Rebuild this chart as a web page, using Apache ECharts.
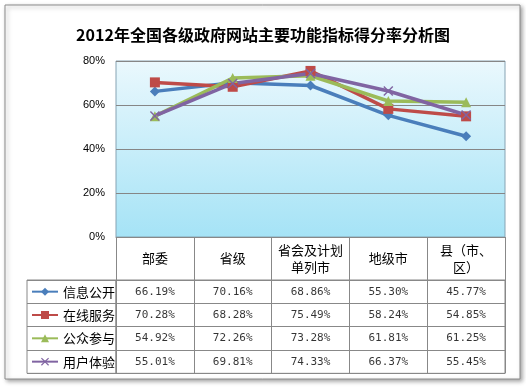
<!DOCTYPE html>
<html><head><meta charset="utf-8">
<script src="https://cdn.jsdelivr.net/npm/echarts@6/dist/echarts.min.js"></script>
<style>html,body{margin:0;padding:0;background:#fff}#c{width:526px;height:387px}</style>
</head><body><div id="c"></div>
<script>
var titleText = '2012年全国各级政府网站主要功能指标得分率分析图';
var categories = ['部委', '省级', '省会及计划\n单列市', '地级市', '县（市、\n区）'];
var seriesNames = ['信息公开', '在线服务', '公众参与', '用户体验'];
var infoOpen = [66.19, 70.16, 68.86, 55.30, 45.77];
var onlineService = [70.28, 68.28, 75.49, 58.24, 54.85];
var publicPart = [54.92, 72.26, 73.28, 61.81, 61.25];
var userExp = [55.01, 69.81, 74.33, 66.37, 55.45];
var yMin = 0, yMax = 80, yStep = 20;

var allValues = [infoOpen, onlineService, publicPart, userExp];
var colors = ['#4a7ebb', '#be4b48', '#9bbb59', '#8064a2'];
var symbols = ['diamond', 'rect', 'triangle', 'path://M0,1 L1,0 L5,4 L9,0 L10,1 L6,5 L10,9 L9,10 L5,6 L1,10 L0,9 L4,5 Z'];
var symbolSizes = [10, 10, 10, 10];

var chart = echarts.init(document.getElementById('c'), null, {renderer: 'canvas'});

var lineSeries = seriesNames.map(function (n, i) {
  return {
    name: n, type: 'line', xAxisIndex: 0, yAxisIndex: 0,
    data: allValues[i], symbol: symbols[i], symbolSize: symbolSizes[i],
    showAllSymbol: true,
    lineStyle: {width: 3.5, color: colors[i]},
    itemStyle: {color: colors[i]},
    z: 3
  };
});

var cellData = [];
allValues.forEach(function (arr, r) {
  arr.forEach(function (v, c) { cellData.push([c, r, v]); });
});

var option = {
  backgroundColor: '#fff',
  animation: false,
  graphic: [{
    type: 'rect', shape: {x: 5, y: 5, width: 515, height: 374}, z: -10,
    style: {fill: '#fff', stroke: '#8c8c8c', lineWidth: 1,
      shadowBlur: 4, shadowOffsetX: 2, shadowOffsetY: 2, shadowColor: 'rgba(0,0,0,0.35)'}
  }],
  title: {
    text: titleText, left: 'center', top: 22,
    textStyle: {fontSize: 16, fontWeight: 'bold', color: '#000', fontFamily: 'Noto Sans CJK SC'}
  },
  legend: {
    orient: 'vertical', left: 31, top: 280, padding: 0, itemGap: 0,
    itemWidth: 26, itemHeight: 10,
    data: seriesNames,
    lineStyle: {width: 2},
    textStyle: {fontSize: 13, lineHeight: 23.33, color: '#000', fontFamily: 'Noto Sans CJK SC'}
  },
  grid: [
    {left: 116, top: 61, width: 389, height: 176, show: true,
      backgroundColor: {type: 'linear', x: 0, y: 0, x2: 0, y2: 1,
        colorStops: [{offset: 0, color: '#eaf8fd'}, {offset: 1, color: '#a5e3f6'}]},
      borderColor: '#86a3b3', borderWidth: 1},
    {left: 116, top: 280, width: 389, height: 93.33, show: true, borderColor: '#888', borderWidth: 1},
    {left: 27, top: 280, width: 89, height: 93.33, show: true, borderColor: '#888', borderWidth: 1}
  ],
  xAxis: [
    {type: 'category', gridIndex: 0, data: categories, boundaryGap: true,
      axisLine: {show: true, lineStyle: {color: '#888'}},
      axisTick: {show: true, length: 43, interval: 0, lineStyle: {color: '#888'}},
      axisLabel: {interval: 0, margin: 21.5, verticalAlign: 'middle', fontSize: 13, lineHeight: 17,
        color: '#000', fontFamily: 'Noto Sans CJK SC'}},
    {type: 'category', gridIndex: 1, data: categories, boundaryGap: true,
      axisLine: {show: false}, axisTick: {show: false}, axisLabel: {show: false},
      splitLine: {show: true, interval: 0, lineStyle: {color: '#888'}}},
    {type: 'value', gridIndex: 2, min: 0, max: 1, show: false}
  ],
  yAxis: [
    {type: 'value', gridIndex: 0, min: yMin, max: yMax, interval: yStep,
      axisLine: {show: false}, axisTick: {show: false},
      axisLabel: {formatter: '{value}%', fontSize: 11, color: '#000', margin: 11, fontFamily: 'Liberation Sans'},
      splitLine: {show: true, lineStyle: {color: '#868686'}}},
    {type: 'category', gridIndex: 1, data: seriesNames, inverse: true, boundaryGap: true,
      axisLine: {show: false}, axisTick: {show: false}, axisLabel: {show: false},
      splitLine: {show: true, interval: 0, lineStyle: {color: '#888'}}},
    {type: 'category', gridIndex: 2, data: seriesNames, inverse: true, boundaryGap: true,
      axisLine: {show: false}, axisTick: {show: false}, axisLabel: {show: false},
      splitLine: {show: true, interval: 0, lineStyle: {color: '#888'}}}
  ],
  series: lineSeries.concat([{
    type: 'scatter', xAxisIndex: 1, yAxisIndex: 1, data: cellData,
    symbolSize: 2, itemStyle: {color: 'rgba(0,0,0,0)'}, silent: true,
    label: {show: true, position: 'inside', color: '#000', fontSize: 11, fontFamily: 'DejaVu Sans Mono',
      formatter: function (p) { return p.value[2].toFixed(2) + '%'; }}
  }])
};
chart.setOption(option);
</script></body></html>
